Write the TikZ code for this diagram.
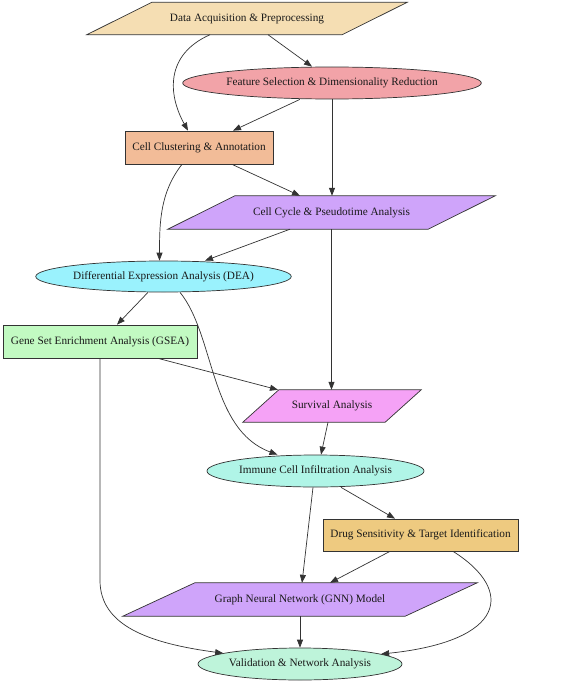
\documentclass[tikz,border=0pt]{standalone}
\usepackage{fontspec}
\setmainfont{Liberation Serif}
\usetikzlibrary{shapes.geometric,arrows.meta,backgrounds,calc}
\definecolor{cwheat}{HTML}{F5DEB3}
\definecolor{cpink}{HTML}{F2A3A8}
\definecolor{cpeach}{HTML}{F2BC98}
\definecolor{clav}{HTML}{CFA4FA}
\definecolor{ccyan}{HTML}{9AF2FD}
\definecolor{cgreen}{HTML}{C2FAC2}
\definecolor{cviolet}{HTML}{F5A2F6}
\definecolor{caqua}{HTML}{B0F5E7}
\definecolor{cgold}{HTML}{EECA80}
\definecolor{cmint}{HTML}{BEF4DA}
\definecolor{cline}{HTML}{333333}
\tikzset{
  base/.style={inner sep=0pt, font=\fontsize{11.25}{13}\selectfont, text=black!90},
  boxn/.style={base, rectangle, draw=cline, line width=0.7pt},
  elln/.style={base, ellipse, draw=cline, line width=0.7pt},
  paran/.style={base, rectangle, draw=none},
  conn/.style={draw=cline, line width=0.7pt, -{Triangle[length=8pt,width=6pt]}},
}
\newcommand{\mkpara}[3]{%
  \begin{pgfonlayer}{background}
  \filldraw[fill=#3, draw=cline, line width=0.7pt] ([xshift=#2pt]#1.north west) -- (#1.north east) -- ([xshift=-#2pt]#1.south east) -- (#1.south west) -- cycle;
  \end{pgfonlayer}}
\begin{document}
\begin{tikzpicture}[x=1pt,y=-1pt]
\begin{pgfonlayer}{background}
\fill[white] (0,0) rectangle (564,685);
\end{pgfonlayer}
\useasboundingbox (0,0) rectangle (564,685);
% nodes
\node[paran, minimum width=320pt, minimum height=32pt] (n1) at (247,18.5) {Data Acquisition \& Preprocessing};
\node[elln, fill=cpink, minimum width=294pt, minimum height=32pt] (n2) at (332,83) {Feature Selection \& Dimensionality Reduction};
\node[boxn, fill=cpeach, minimum width=148pt, minimum height=33pt] (n3) at (199,147.5) {Cell Clustering \& Annotation};
\node[paran, minimum width=327pt, minimum height=33pt] (n4) at (331.5,212.5) {Cell Cycle \& Pseudotime Analysis};
\node[elln, fill=ccyan, minimum width=253pt, minimum height=31pt] (n5) at (163.5,276.5) {Differential Expression Analysis (DEA)};
\node[boxn, fill=cgreen, minimum width=194pt, minimum height=33pt] (n6) at (100,341.5) {Gene Set Enrichment Analysis (GSEA)};
\node[paran, minimum width=178pt, minimum height=32pt] (n7) at (332,406) {Survival Analysis};
\node[elln, fill=caqua, minimum width=217pt, minimum height=32pt] (n8) at (315.5,471) {Immune Cell Infiltration Analysis};
\node[boxn, fill=cgold, minimum width=195pt, minimum height=32pt] (n9) at (420.5,535) {Drug Sensitivity \& Target Identification};
\node[paran, minimum width=354pt, minimum height=33pt] (n10) at (300,599.5) {Graph Neural Network (GNN) Model};
\node[elln, fill=cmint, minimum width=204pt, minimum height=32pt] (n11) at (300,664) {Validation \& Network Analysis};
\mkpara{n1}{65}{cwheat}
\mkpara{n4}{67}{clav}
\mkpara{n7}{36}{cviolet}
\mkpara{n10}{72}{clav}
% connectors
\draw[conn] ([xshift=-37pt]n1.south) .. controls +(-45,20) and +(-20,-36) .. ([xshift=-11pt]n3.north);
\draw[conn] ([xshift=21pt]n1.south) -- ([xshift=-20pt]n2.north);
\draw[conn] ([xshift=-32pt]n2.south) -- ([xshift=34pt]n3.north);
\draw[conn] (n2.south) -- (n2.south |- n4.north);
\draw[conn] ([xshift=33pt]n3.south) -- ([xshift=-31.5pt]n4.north);
\draw[conn] ([xshift=-17pt]n3.south) .. controls +(-22,28) and +(0,-38) .. ([xshift=-4pt]n5.north);
\draw[conn] ([xshift=-41.5pt]n4.south) -- ([xshift=41.5pt]n5.north);
\draw[conn] (n4.south) -- (n4.south |- n7.north);
\draw[conn] ([xshift=-15.5pt]n5.south) -- ([xshift=17pt]n6.north);
\draw[conn] ([xshift=16.5pt]n5.south) .. controls +(35,43) and +(-68,-25) .. ([xshift=-38pt]n8.north);
\draw[conn] ([xshift=58pt]n6.south) -- ([xshift=-54pt]n7.north);
\draw[conn] (n6.south) -- ++(0,222) .. controls +(0,45) and +(-75,-10) .. (n11.172);
\draw[conn] ([xshift=-4pt]n7.south) -- ([xshift=5.5pt]n8.north);
\draw[conn] ([xshift=25.5pt]n8.south) -- ([xshift=-25.5pt]n9.north);
\draw[conn] ([xshift=-2.5pt]n8.south) -- ([xshift=2pt]n10.north);
\draw[conn] ([xshift=-30.5pt]n9.south) -- ([xshift=30pt]n10.north);
\draw[conn] ([xshift=32.5pt]n9.south) .. controls +(62,39) and +(125,-13) .. (n11.7);
\draw[conn] (n10.south) -- (n11.north);
\end{tikzpicture}
\end{document}
